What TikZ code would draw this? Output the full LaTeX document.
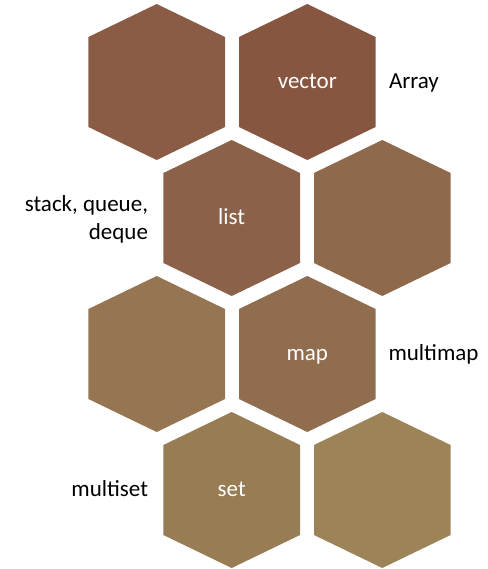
\documentclass[tikz,border=0pt]{standalone}
\usepackage{fontspec}
\setmainfont{Carlito}

% cell fills, from dark red-brown to light tan
\definecolor{cellA}{RGB}{138,92,70}
\definecolor{cellB}{RGB}{134,86,65}
\definecolor{cellC}{RGB}{139,98,73}
\definecolor{cellD}{RGB}{143,105,75}
\definecolor{cellE}{RGB}{149,117,82}
\definecolor{cellF}{RGB}{144,109,78}
\definecolor{cellG}{RGB}{151,124,84}
\definecolor{cellH}{RGB}{156,132,88}

\tikzset{
  x=1pt, y=-1pt,
  pics/hexcell/.style={code={
    \fill[fill=#1] (0,-78) -- (68.3,-45) -- (68.3,45) -- (0,78)
      -- (-68.3,45) -- (-68.3,-45) -- cycle;
  }},
  cellname/.style={inner sep=0pt, outer sep=0pt, text=white,
    font=\fontsize{23}{27.6}\selectfont},
  sidenote/.style={inner sep=0pt, outer sep=0pt, text=black,
    font=\fontsize{23}{27.6}\selectfont},
}

\begin{document}
\begin{tikzpicture}
  \useasboundingbox (0,0) rectangle (487,569);

  % honeycomb, four rows of two cells
  \pic at (156.7,82)  {hexcell=cellA};
  \pic at (307.3,82)  {hexcell=cellB};
  \pic at (231.7,218) {hexcell=cellC};
  \pic at (382.3,218) {hexcell=cellD};
  \pic at (156.7,354) {hexcell=cellE};
  \pic at (307.3,354) {hexcell=cellF};
  \pic at (231.7,490) {hexcell=cellG};
  \pic at (382.3,490) {hexcell=cellH};

  % container names inside the cells
  \node[cellname, anchor=base] (vector) at (307.3,88.5)  {vector};
  \node[cellname, anchor=base] (list)   at (231.7,224.5) {list};
  \node[cellname, anchor=base] (map)    at (307.3,360.5) {map};
  \node[cellname, anchor=base] (set)    at (231.7,496.5) {set};

  % related structures beside the cells
  \node[sidenote, anchor=base west] (array)    at (389,88.5)  {Array};
  \node[sidenote, anchor=base west] (multimap) at (388.5,360.5) {multimap};
  \node[sidenote, anchor=base east] (multiset) at (148,496.5) {multiset};
  % base anchor of a two-line node sits on its last line
  \node[sidenote, anchor=base east, align=right] (seq) at (148,239)
    {stack, queue,\\deque};
\end{tikzpicture}
\end{document}
